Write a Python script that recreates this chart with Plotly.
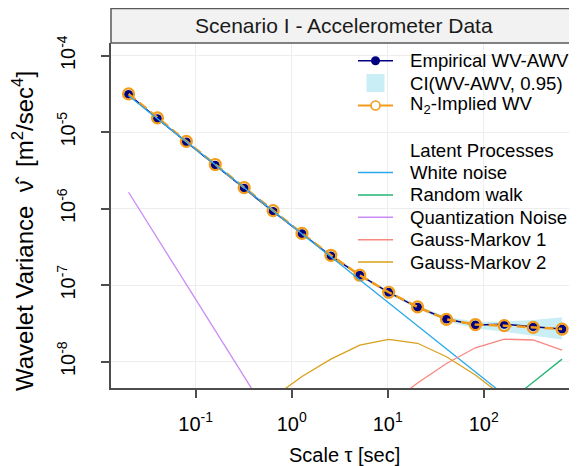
import plotly.graph_objects as go

# ---------------- data ----------------
scales = [0.02, 0.04, 0.08, 0.16, 0.32, 0.64, 1.28, 2.56, 5.12, 10.24,
          20.48, 40.96, 81.92, 163.84, 327.68, 655.36]

empirical_wv = [3.12e-5, 1.50e-5, 7.45e-6, 3.69e-6, 1.85e-6, 9.18e-7, 4.71e-7,
                2.41e-7, 1.35e-7, 8.07e-8, 5.14e-8, 3.61e-8, 3.02e-8, 3.08e-8,
                2.87e-8, 2.67e-8]
ci_low = [3.04e-5, 1.46e-5, 7.26e-6, 3.59e-6, 1.80e-6, 8.93e-7, 4.57e-7, 2.33e-7,
          1.31e-7, 7.75e-8, 4.90e-8, 3.38e-8, 2.72e-8, 2.47e-8, 2.20e-8, 1.95e-8]
ci_high = [3.20e-5, 1.54e-5, 7.65e-6, 3.80e-6, 1.91e-6, 9.45e-7, 4.86e-7, 2.50e-7,
           1.40e-7, 8.42e-8, 5.42e-8, 3.86e-8, 3.32e-8, 3.36e-8, 3.52e-8, 3.80e-8]
implied_wv = [3.164e-5, 1.541e-5, 7.60e-6, 3.78e-6, 1.883e-6, 9.42e-7, 4.75e-7,
              2.46e-7, 1.35e-7, 8.08e-8, 5.20e-8, 3.58e-8, 3.06e-8, 2.96e-8,
              2.81e-8, 2.67e-8]

white_noise = [3.0e-5, 1.5e-5, 7.5e-6, 3.75e-6, 1.875e-6, 9.375e-7, 4.69e-7, 2.34e-7,
               1.17e-7, 5.86e-8, 2.93e-8, 1.46e-8, 7.32e-9, 3.66e-9, 1.83e-9, 9.2e-10]
random_walk = [3.3e-13, 6.6e-13, 1.3e-12, 2.6e-12, 5.3e-12, 1.05e-11, 2.1e-11, 4.2e-11,
               8.4e-11, 1.7e-10, 3.4e-10, 6.7e-10, 1.35e-9, 2.7e-9, 5.4e-9, 1.08e-8]
quant_noise = [1.64e-6, 4.1e-7, 1.03e-7, 2.56e-8, 6.4e-9, 1.6e-9, 4.0e-10, 1.0e-10,
               2.5e-11, 6.3e-12, 1.6e-12, 3.9e-13, 9.8e-14, 2.4e-14, 6.1e-15, 1.5e-15]
gauss_markov_1 = [5.3e-12, 1.1e-11, 2.1e-11, 4.3e-11, 8.5e-11, 1.7e-10, 3.4e-10, 6.8e-10,
                  1.36e-9, 2.7e-9, 5.27e-9, 9.46e-9, 1.52e-8, 1.97e-8, 1.92e-8, 1.42e-8]
gauss_markov_2 = [1.1e-10, 2.1e-10, 4.3e-10, 8.5e-10, 1.7e-9, 3.4e-9, 6.4e-9, 1.08e-8,
                  1.65e-8, 1.96e-8, 1.74e-8, 1.16e-8, 6.7e-9, 3.5e-9, 1.75e-9, 8.8e-10]

x_tickvals = [0.1, 1, 10, 100]
x_ticktext = ["10<sup>-1</sup>", "10<sup>0</sup>", "10<sup>1</sup>", "10<sup>2</sup>"]
y_tickvals = [1e-4, 1e-5, 1e-6, 1e-7, 1e-8]
y_ticktext = ["10<sup>-4</sup>", "10<sup>-5</sup>", "10<sup>-6</sup>", "10<sup>-7</sup>", "10<sup>-8</sup>"]

title_text = "Scenario I - Accelerometer Data"
main_names = ["Empirical WV-AWV", "CI(WV-AWV, 0.95)", "N<sub>2</sub>-Implied WV"]
latent_names = ["White noise", "Random walk", "Quantization Noise", "Gauss-Markov 1", "Gauss-Markov 2"]

# ---------------- style ----------------
OFF = 8  # default page margin of the browser
W, H = 577 - OFF, 466 - OFF
ML, MR, MT = 111 - OFF, 0, 43 - OFF
PLOT_BOTTOM = 388 - OFF
MB = H - PLOT_BOTTOM
PW, PH = W - ML - MR, H - MT - MB
FONT = "Arial, Liberation Sans, sans-serif"
NAVY = "#000080"
ORANGE = "#F39C1A"
CI_COL = "#C9EEF6"
latent_cols = ["#2AA9EC", "#22B573", "#C98AF5", "#F8877F", "#D9A01E"]
AX = "#4D4D4D"


def px(x):  # reference-image pixel -> paper
    return (x - OFF - ML) / PW


def py(y):
    return (PLOT_BOTTOM - (y - OFF)) / PH


fig = go.Figure()

fig.add_trace(go.Scatter(x=scales + scales[::-1], y=ci_high + ci_low[::-1],
                         fill="toself", fillcolor=CI_COL, line=dict(width=0),
                         mode="lines", hoverinfo="skip", showlegend=False))
fig.add_trace(go.Scatter(x=scales, y=empirical_wv, mode="lines+markers",
                         line=dict(color=NAVY, width=1.5),
                         marker=dict(color=NAVY, size=9), showlegend=False))
fig.add_trace(go.Scatter(x=scales, y=implied_wv, mode="lines+markers",
                         line=dict(color=ORANGE, width=2.5, dash="9px,5px"),
                         marker=dict(symbol="circle-open", color=ORANGE, size=11,
                                     line=dict(width=2.2, color=ORANGE)),
                         showlegend=False))
for vals, col in zip([white_noise, random_walk, quant_noise, gauss_markov_1, gauss_markov_2],
                     latent_cols):
    fig.add_trace(go.Scatter(x=scales, y=vals, mode="lines",
                             line=dict(color=col, width=1.3), showlegend=False))

shapes = []
annotations = []

# title strip
shapes.append(dict(type="rect", xref="paper", yref="paper", x0=0, x1=1.02,
                   y0=1.0, y1=py(8.5), fillcolor="#F2F2F2",
                   line=dict(color="#5A5A5A", width=1.5), layer="above"))
annotations.append(dict(xref="paper", yref="paper", x=px(344), y=py(25.5),
                        text=title_text, showarrow=False, xanchor="center", yanchor="middle",
                        font=dict(family=FONT, size=21, color="#1A1A1A")))

# custom legend
row0, dy = 60.7, 22.37
lx0, lx1, lxc, tx = 358, 393, 375.5, 410
rows = [row0 + dy * k for k in [0, 1, 2, 4, 5, 6, 7, 8, 9]]


def seg(y, col, w):
    shapes.append(dict(type="line", xref="paper", yref="paper", x0=px(lx0), x1=px(lx1),
                       y0=py(y), y1=py(y), line=dict(color=col, width=w)))


def txt(y, s):
    annotations.append(dict(xref="paper", yref="paper", x=px(tx - 2), y=py(y), text=s,
                            showarrow=False, xanchor="left", yanchor="middle",
                            font=dict(family=FONT, size=18.6, color="black")))


seg(rows[0], NAVY, 1.5)
shapes.append(dict(type="circle", xref="paper", yref="paper", x0=px(lxc - 4.5), x1=px(lxc + 4.5),
                   y0=py(rows[0] + 4.5), y1=py(rows[0] - 4.5), fillcolor=NAVY, line=dict(width=0)))
txt(rows[0], main_names[0])
shapes.append(dict(type="rect", xref="paper", yref="paper", x0=px(lxc - 9), x1=px(lxc + 9),
                   y0=py(rows[1] + 9), y1=py(rows[1] - 9), fillcolor=CI_COL, line=dict(width=0)))
txt(rows[1], main_names[1])
seg(rows[2], ORANGE, 2)
shapes.append(dict(type="circle", xref="paper", yref="paper", x0=px(lxc - 4.5), x1=px(lxc + 4.5),
                   y0=py(rows[2] + 4.5), y1=py(rows[2] - 4.5), fillcolor="white",
                   line=dict(color=ORANGE, width=1.6)))
txt(rows[2], main_names[2])
txt(rows[3], "Latent Processes")
for i, (nm, col) in enumerate(zip(latent_names, latent_cols)):
    seg(rows[4 + i], col, 1.5)
    txt(rows[4 + i], nm)

# axis titles
annotations.append(dict(xref="paper", yref="paper", x=px(344), y=py(455),
                        text="Scale τ [sec]", showarrow=False, xanchor="center", yanchor="middle",
                        font=dict(family=FONT, size=20, color="black")))
annotations.append(dict(xref="paper", yref="paper", x=px(23), y=py(231),
                        text="Wavelet Variance  ν\u0302  [m<sup>2</sup>/sec<sup>4</sup>]",
                        textangle=-90, showarrow=False, xanchor="center", yanchor="middle",
                        font=dict(family=FONT, size=24, color="black")))

fig.update_layout(
    width=W, height=H,
    margin=dict(l=ML, r=MR, t=MT, b=MB, pad=0),
    paper_bgcolor="white", plot_bgcolor="white",
    showlegend=False,
    shapes=shapes, annotations=annotations,
    font=dict(family=FONT, color="black"),
    xaxis=dict(type="log", range=[-1.882, 2.972], tickvals=x_tickvals, ticktext=x_ticktext,
               showline=True, linecolor=AX, linewidth=1.5, mirror=False,
               ticks="outside", ticklen=8, tickwidth=1.5, tickcolor=AX,
               ticklabelstandoff=9,
               showgrid=True, gridcolor="#EDEDED", gridwidth=1, zeroline=False,
               tickfont=dict(family=FONT, size=20, color="black")),
    yaxis=dict(type="log", range=[-8.344, -3.834], tickvals=y_tickvals, ticktext=y_ticktext,
               showline=True, linecolor=AX, linewidth=1.5, mirror=False,
               ticks="outside", ticklen=8, tickwidth=1.5, tickcolor=AX, tickangle=-90,
               ticklabelstandoff=18,
               showgrid=True, gridcolor="#EDEDED", gridwidth=1, zeroline=False,
               tickfont=dict(family=FONT, size=20, color="black")),
)

fig.write_html("out.html")
